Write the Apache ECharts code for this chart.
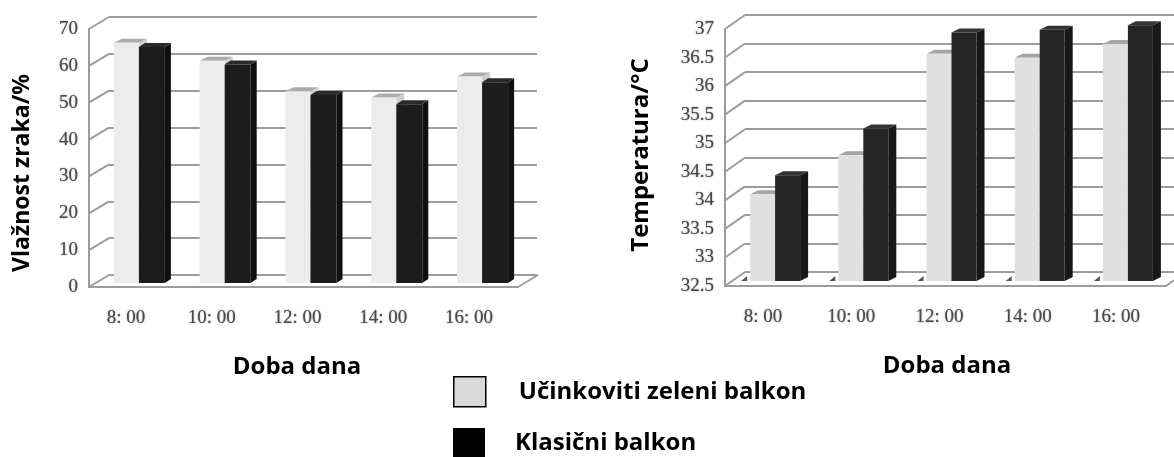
<!DOCTYPE html>
<html><head><meta charset="utf-8">
<style>html,body{margin:0;padding:0;background:#fff}#c{width:1174px;height:457px}</style>
<script src="https://cdn.jsdelivr.net/npm/echarts@6/dist/echarts.min.js"></script>
</head><body><div id="c"></div>
<script>
const categories = ['8: 00','10: 00','12: 00','14: 00','16: 00'];
const lightName = 'Učinkoviti zeleni balkon';
const darkName = 'Klasični balkon';
const humidityLight = [65.2,60.3,52,50.3,56];
const humidityDark = [64,59.3,51,48.5,54.5];
const tempLight = [34.02,34.7,36.48,36.41,36.65];
const tempDark = [34.35,35.17,36.85,36.9,36.98];
const humidityTicks = [0,10,20,30,40,50,60,70];
const tempTicks = [32.5,33,33.5,34,34.5,35,35.5,36,36.5,37];

const lineColor = '#9c9c9c';
const tickFont = {color:'#4b4b4b', fontFamily:'Liberation Serif', fontSize:19, textShadowColor:'#777', textShadowBlur:1.5};
const boldFont = 'Open Sans';

function wallSeries(xi, ticks, dx, dy){
  return {type:'custom', xAxisIndex:xi, yAxisIndex:xi, silent:true, z:2, clip:false,
    data:ticks.map(t=>[0,t]),
    renderItem(p,api){
      const cs=p.coordSys, y=api.coord([0,api.value(1)])[1];
      const kids=[{type:'line',shape:{x1:cs.x,y1:y,x2:cs.x+dx,y2:y+dy},style:{stroke:lineColor,lineWidth:2}}];
      if(p.dataIndex===0){
        kids.push({type:'line',shape:{x1:cs.x+cs.width,y1:y,x2:cs.x+cs.width+dx,y2:y+dy},style:{stroke:lineColor,lineWidth:2}});
      }
      return {type:'group',children:kids};
    }};
}
function barSeries(name, xi, values, st){
  return {name, type:'custom', xAxisIndex:xi, yAxisIndex:xi, silent:true, z:st.z, clip:false,
    itemStyle:{color:st.legend},
    data:values.map((v,i)=>[i,v]),
    renderItem(p,api){
      const c=api.coord([api.value(0),api.value(1)]);
      const base=api.coord([api.value(0),st.min])[1]+st.oy;
      const cx=c[0]+st.ox, top=c[1]+st.oy;
      const l=cx+st.x0, r=cx+st.x1, d=st.dx, h=st.dy;
      const kids=[];
      if(st.tip){
        kids.push({type:'polygon',shape:{points:[[l-9,base],[l-3,base],[l-3,base-5]]},style:{fill:'#555'}});
      }
      kids.push({type:'polygon',shape:{points:[[r,base],[r+d,base-h],[r+d,top-h],[r,top]]},style:{fill:st.side}});
      kids.push({type:'polygon',shape:{points:[[l,top],[r,top],[r+d,top-h],[l+d,top-h]]},style:{fill:st.topc}});
      kids.push({type:'rect',shape:{x:l,y:top,width:r-l,height:base-top},style:{fill:st.front}});
      return {type:'group',children:kids};
    }};
}
const titleText = (text,x,y,rot,size)=>({type:'text',x,y,rotation:rot||0,
  style:{text,fontFamily:boldFont,fontWeight:'bold',fontSize:size||24,fill:'#000',align:'center',verticalAlign:'middle'}});

const grids=[
 {left:89,top:29,width:429,height:258},
 {left:109,top:17,width:428,height:258},
 {left:725,top:29,width:441,height:257},
 {left:745,top:15,width:441,height:257}
];
const mkX=(gi,show,pad)=>({type:'category',gridIndex:gi,data:categories,show,
  axisTick:{show:false},axisLine:{show:show,lineStyle:{color:lineColor,width:2}},
  axisLabel:{...tickFont,margin:22,padding:[0,pad,0,0],interval:0},splitLine:{show:false}});
const mkY=(gi,min,max,interval,show,split)=>({type:'value',gridIndex:gi,min,max,interval,
  axisTick:{show:false},axisLine:{show:show,lineStyle:{color:lineColor,width:2}},
  axisLabel:{show,...tickFont,margin:11},
  splitLine:{show:split,lineStyle:{color:lineColor,width:2}}});
const legendText = {fontFamily:boldFont,fontWeight:'bold',fontSize:24,color:'#000'};

const chart=echarts.init(document.getElementById('c'),null,{renderer:'canvas'});
chart.setOption({
  animation:false,
  backgroundColor:'#fff',
  grid:grids,
  xAxis:[mkX(0,true,12),mkX(1,false,0),mkX(2,true,12),mkX(3,false,0)],
  yAxis:[mkY(0,0,70,10,true,false),mkY(1,0,70,10,false,true),mkY(2,32.5,37,0.5,true,false),mkY(3,32.5,37,0.5,false,true)],
  legend:[
    {left:453,top:376,padding:0,itemWidth:32,itemHeight:30,selectedMode:false,
     textStyle:{...legendText,padding:[3,0,0,28]},
     data:[{name:lightName,icon:'rect',itemStyle:{color:'#d9d9d9',borderColor:'#000',borderWidth:1.5}}]},
    {left:453,top:428,padding:0,itemWidth:32,itemHeight:30,selectedMode:false,
     textStyle:{...legendText,padding:[4,0,0,25]},
     data:[{name:darkName,icon:'rect',itemStyle:{color:'#000'}}]}
  ],
  graphic:[titleText('Doba dana',297,367),titleText('Doba dana',947,366),
           titleText('Vlažnost zraka/%',22,173,Math.PI/2,23),titleText('Temperatura/°C',641,155,Math.PI/2)],
  series:[
    wallSeries(0,humidityTicks,20,-12),
    wallSeries(2,tempTicks,20,-14),
    barSeries(lightName,0,humidityLight,{z:3,min:0,ox:7,oy:-4,x0:-25,x1:0,dx:8,dy:4,front:'#ececec',side:'#cfcfcf',topc:'#ababab',legend:'#d9d9d9'}),
    barSeries(darkName,0,humidityDark,{z:4,min:0,ox:7,oy:-4,x0:0,x1:26,dx:6,dy:4,front:'#1c1c1c',side:'#101010',topc:'#2a2a2a',legend:'#000'}),
    barSeries(lightName,2,tempLight,{z:3,min:32.5,ox:6,oy:-5,x0:-25,x1:0,dx:8,dy:4,front:'#e0e0e0',side:'#c8c8c8',topc:'#a5a5a5',legend:'#d9d9d9',tip:true}),
    barSeries(darkName,2,tempDark,{z:4,min:32.5,ox:6,oy:-5,x0:0,x1:25,dx:8,dy:4,front:'#252525',side:'#181818',topc:'#333',legend:'#000'})
  ]
});
</script></body></html>
